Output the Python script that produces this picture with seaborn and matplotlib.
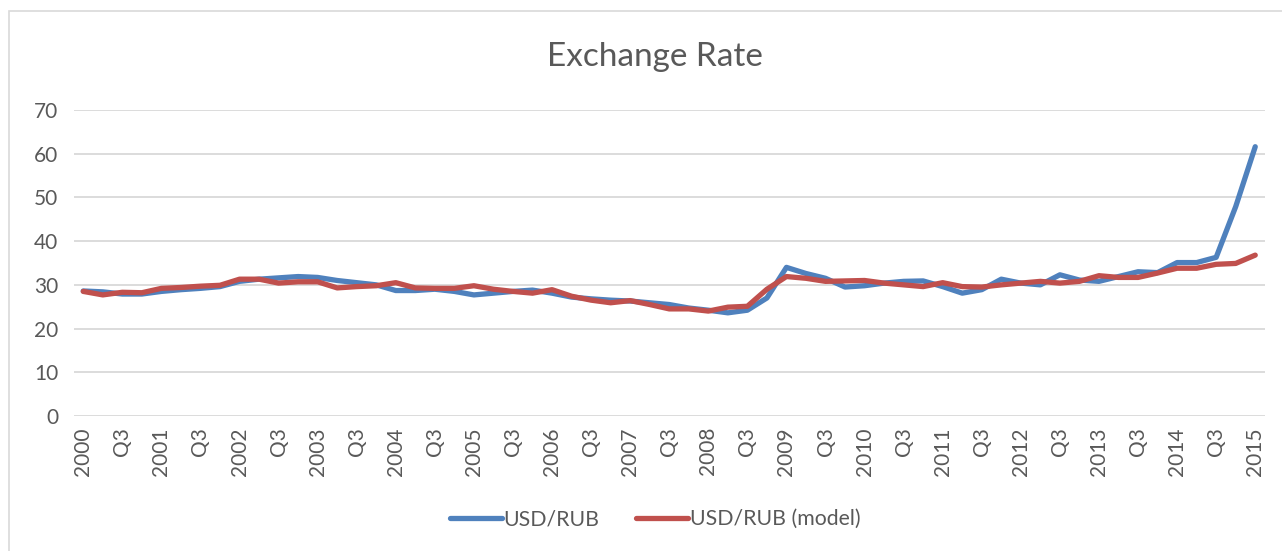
import matplotlib
matplotlib.use('Agg')
import matplotlib.pyplot as plt
import pandas as pd
import seaborn as sns
from matplotlib.patches import Rectangle

# Quarterly USD/RUB, 2000 Q1 .. 2015 Q1
usd_rub = [28.6, 28.4, 27.9, 27.9, 28.5, 28.9, 29.2, 29.6,
           30.8, 31.3, 31.6, 31.9, 31.7, 31.0, 30.5, 30.0,
           28.7, 28.7, 29.0, 28.5, 27.7, 28.1, 28.5, 28.8,
           28.1, 27.2, 26.8, 26.5, 26.3, 25.9, 25.5, 24.7,
           24.2, 23.6, 24.2, 27.0, 34.0, 32.6, 31.5, 29.5,
           29.8, 30.4, 30.8, 30.9, 29.6, 28.1, 28.9, 31.3,
           30.4, 30.0, 32.3, 31.1, 30.8, 31.9, 33.0, 32.8,
           35.1, 35.1, 36.3, 47.9, 61.6]

usd_rub_model = [28.5, 27.7, 28.3, 28.2, 29.2, 29.4, 29.7, 29.9,
                 31.3, 31.3, 30.4, 30.7, 30.7, 29.3, 29.6, 29.8,
                 30.5, 29.3, 29.2, 29.2, 29.8, 29.0, 28.5, 28.1,
                 28.9, 27.4, 26.5, 25.9, 26.4, 25.5, 24.5, 24.5,
                 24.0, 24.9, 25.1, 29.0, 31.9, 31.5, 30.8, 30.9,
                 31.0, 30.4, 30.0, 29.6, 30.5, 29.6, 29.5, 30.0,
                 30.4, 30.8, 30.4, 30.8, 32.1, 31.7, 31.7, 32.7,
                 33.8, 33.8, 34.7, 34.9, 36.8]

years = list(range(2000, 2016))
series_names = ['USD/RUB', 'USD/RUB (model)']
colors = ['#4f81bd', '#c0504d']

# Tick labels: one every two quarters, year at Q1, "Q3" otherwise
tick_pos = list(range(0, len(usd_rub), 2))
tick_labels = [str(years[p // 4]) if p % 4 == 0 else 'Q3' for p in tick_pos]

df = pd.DataFrame({
    'quarter': list(range(len(usd_rub))) * 2,
    'value': usd_rub + usd_rub_model,
    'series': [series_names[0]] * len(usd_rub) + [series_names[1]] * len(usd_rub_model),
})

sns.set_style('white')
plt.rcParams['font.family'] = ['Lato', 'DejaVu Sans']
text_color = '#595959'

fig = plt.figure(figsize=(12.82, 5.51), dpi=100)
ax = fig.add_axes([73.5 / 1282, 135 / 551, 1191.5 / 1282, 306 / 551])

sns.lineplot(data=df, x='quarter', y='value', hue='series', palette=colors,
             linewidth=3.8, ax=ax, legend=False)

ax.set_xlim(-0.5, len(usd_rub) - 0.5)
ax.set_ylim(0, 70)
ax.set_yticks(range(0, 71, 10))
ax.set_xticks(tick_pos)
ax.set_xticklabels(tick_labels, rotation=90, va='top', ha='center')
ax.tick_params(axis='both', length=0, labelsize=15, colors=text_color)
ax.tick_params(axis='y', pad=11)
ax.tick_params(axis='x', pad=8)
ax.set_xlabel('')
ax.set_ylabel('')
ax.grid(axis='y', color='#d9d9d9', linewidth=1.3)
ax.set_axisbelow(True)
for s in ax.spines.values():
    s.set_visible(False)

fig.text(0.511, 0.897, 'Exchange Rate', ha='center', va='center',
         fontsize=24, color=text_color)

handles = [plt.Line2D([], [], color=c, linewidth=3.8) for c in colors]
fig.legend(handles, series_names, loc='center', bbox_to_anchor=(0.511, 0.058),
           ncol=2, frameon=False, fontsize=15.3, handlelength=2.45,
           handletextpad=0.1, columnspacing=1.7, labelcolor=text_color)

# light chart border
fig.patches.append(Rectangle((9 / 1282, -0.05), 1.1, 1 - 11 / 551 + 0.05,
                             transform=fig.transFigure, fill=False,
                             edgecolor='#d9d9d9', linewidth=1.2))

fig.savefig('out.png', dpi=100)
